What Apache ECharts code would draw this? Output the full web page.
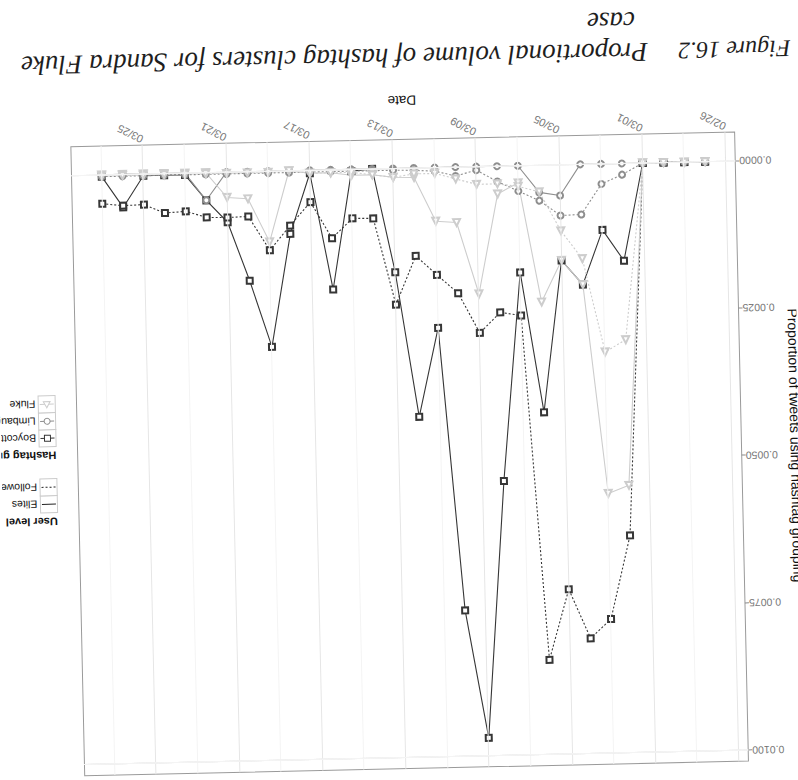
<!DOCTYPE html>
<html>
<head>
<meta charset="utf-8">
<script src="https://cdn.jsdelivr.net/npm/echarts@6/dist/echarts.min.js"></script>
<style>
  html, body { margin: 0; padding: 0; background: #fff; overflow: hidden; }
  /* the printed page sits upside down and slightly askew */
  #page { width: 798px; height: 780px; transform: rotate(178.74deg); transform-origin: 399px 390px; }
</style>
</head>
<body>
<div id="page"></div>
<script>
// ---- data -------------------------------------------------------------
const dates = [
  '2012-02-27','2012-02-28','2012-02-29','2012-03-01','2012-03-02','2012-03-03',
  '2012-03-04','2012-03-05','2012-03-06','2012-03-07','2012-03-08','2012-03-09',
  '2012-03-10','2012-03-11','2012-03-12','2012-03-13','2012-03-14','2012-03-15',
  '2012-03-16','2012-03-17','2012-03-18','2012-03-19','2012-03-20','2012-03-21',
  '2012-03-22','2012-03-23','2012-03-24','2012-03-25','2012-03-26','2012-03-27'
];
const boycottElites = [0,0,0,0,0.00165,0.00112,0.00204,0.00162,0.00419,0.00181,0.00534,0.00969,0.00752,0.00272,0.00422,0.00176,0,0.00003,0.00203,0.00005,0.00107,0.00298,0.00185,0.00085,0.00047,0.00003,0.00003,0.00003,0.00056,0.00003];
const boycottFollowers = [0,0,0,0,0.00631,0.00772,0.00804,0.00720,0.00839,0.00254,0.00248,0.00282,0.00214,0.00182,0.00149,0.00231,0.00084,0.00083,0.00116,0.00054,0.00093,0.00134,0.00076,0.00077,0.00076,0.00065,0.00067,0.00052,0.00053,0.00049];
const limbaughElites = [0,0,0,0,0,0,0,0.00052,0.00046,0,0,0,0,0,0,0,0,0,0,0,0,0,0,0,0.00047,0,0,0,0,0];
const limbaughFollowers = [0,0,0,0,0.00019,0.00034,0.00085,0.00086,0.00060,0.00043,0.00026,0.00006,0.00015,0.00006,0.00004,0.00003,0.00003,0.00003,0.00003,0.00003,0.00003,0.00003,0.00003,0.00003,0.00003,0.00003,0.00003,0.00003,0.00003,0.00003];
const flukeElites = [0,0,0,0,0.00546,0.00559,0.00204,0.00162,0.00232,0.00029,0.00047,0.00216,0.00094,0.00091,0.00016,0.00015,0.00010,0.00010,0.00005,0.00005,0,0.00120,0.00046,0.00043,0,0,0,0,0,0];
const flukeFollowers = [0,0,0,0,0.00299,0.00319,0.00160,0.00112,0.00045,0.00035,0.00030,0.00030,0.00020,0.00010,0.00010,0.00015,0.00010,0.00005,0.00005,0.00005,0,0.00002,0.00002,0.00002,0.00002,0.00002,0.00002,0.00002,0.00002,0.00002];

const tickDates  = ['2012-02-26','2012-03-01','2012-03-05','2012-03-09','2012-03-13','2012-03-17','2012-03-21','2012-03-25'];
const tickLabels = ['02/26','03/01','03/05','03/09','03/13','03/17','03/21','03/25'];
const minorDates = ['2012-02-28','2012-03-03','2012-03-07','2012-03-11','2012-03-15','2012-03-19','2012-03-23','2012-03-27'];
const yTicks      = [0, 0.0025, 0.005, 0.0075, 0.01];
const yTickLabels = ['0.0000','0.0025','0.0050','0.0075','0.0100'];
const yMinor      = [0.00125, 0.00375, 0.00625, 0.00875];

const hashtagGroups = ['Boycott','Limbaugh','Fluke'];
const userLevels    = ['Elites','Followers'];

// ---- helpers ------------------------------------------------------------
const DAY = 86400000;
const toTime = s => { const p = s.split('-').map(Number); return Date.UTC(p[0], p[1] - 1, p[2]); };
const times = dates.map(toTime);
const tickTimes = tickDates.map(toTime);
const minorTimes = minorDates.map(toTime);

const groupColor  = ['#363636', '#8e8e8e', '#cdcdcd'];
const groupSymbol = ['emptyRect', 'emptyCircle', 'emptyTriangle'];
const levelDash   = ['solid', [2, 2]];

const seriesValues = [
  [boycottElites, boycottFollowers],
  [limbaughElites, limbaughFollowers],
  [flukeElites, flukeFollowers]
];

const lineSeries = [];
hashtagGroups.forEach((g, gi) => {
  userLevels.forEach((lv, li) => {
    lineSeries.push({
      name: g + ' · ' + lv,
      type: 'line',
      z: 3,
      data: times.map((t, i) => [t, seriesValues[gi][li][i]]),
      symbol: groupSymbol[gi],
      symbolSize: gi === 2 ? 7 : 6,
      showSymbol: true,
      lineStyle: { color: groupColor[gi], width: 1.1, type: levelDash[li] },
      itemStyle: { color: groupColor[gi], borderColor: groupColor[gi], borderWidth: 1 },
      emphasis: { disabled: true }
    });
  });
});

// panel grid lines, placed through the axes' own scales
const gridLines = [];
tickTimes.forEach(t => gridLines.push({ xAxis: t, lineStyle: { color: '#e6e6e6', width: 1, type: 'solid' } }));
minorTimes.forEach(t => gridLines.push({ xAxis: t, lineStyle: { color: '#f4f4f4', width: 1, type: 'solid' } }));
yTicks.forEach(v => gridLines.push({ yAxis: v, lineStyle: { color: '#e6e6e6', width: 1, type: 'solid' } }));
yMinor.forEach(v => gridLines.push({ yAxis: v, lineStyle: { color: '#f4f4f4', width: 1, type: 'solid' } }));

const gridSeries = {
  name: 'grid',
  type: 'line',
  z: 1,
  data: [],
  silent: true,
  markLine: { silent: true, symbol: 'none', label: { show: false }, animation: false, data: gridLines }
};

// ---- legend keys (two stacked guides) -------------------------------------
const LX = 743, KEY = 17;
const legendEls = [];
function keyBox(y) {
  legendEls.push({ type: 'rect', shape: { x: LX, y: y, width: KEY, height: KEY },
    style: { fill: '#fff', stroke: '#cccccc', lineWidth: 1 } });
}
function keyText(str, y, bold) {
  legendEls.push({ type: 'text', x: bold ? LX : LX + KEY + 3, y: y,
    style: { text: str, fill: '#111', fontSize: bold ? 11 : 10.5, fontWeight: bold ? 'bold' : 'normal',
      fontFamily: 'Liberation Sans, Arial, sans-serif', verticalAlign: 'middle', align: 'left' } });
}
keyText('User level', 266, true);
userLevels.forEach((lv, i) => {
  const y = 275 + i * KEY;
  keyBox(y);
  legendEls.push({ type: 'line', shape: { x1: LX + 1.5, y1: y + KEY / 2, x2: LX + KEY - 1.5, y2: y + KEY / 2 },
    style: { stroke: '#222', lineWidth: 1, lineDash: i === 1 ? [2, 2] : null } });
  keyText(lv, y + KEY / 2, false);
});
keyText('Hashtag group', 332, true);
hashtagGroups.forEach((g, i) => {
  const y = 341 + i * KEY, cx = LX + KEY / 2, cy = y + KEY / 2;
  keyBox(y);
  legendEls.push({ type: 'line', shape: { x1: LX + 1.5, y1: cy, x2: LX + KEY - 1.5, y2: cy },
    style: { stroke: groupColor[i], lineWidth: 1 } });
  const st = { fill: '#fff', stroke: groupColor[i], lineWidth: 1 };
  if (i === 0) legendEls.push({ type: 'rect', shape: { x: cx - 3, y: cy - 3, width: 6, height: 6 }, style: st });
  if (i === 1) legendEls.push({ type: 'circle', shape: { cx: cx, cy: cy, r: 3 }, style: st });
  if (i === 2) legendEls.push({ type: 'polygon', shape: { points: [[cx, cy - 3.6], [cx + 3.4, cy + 2.6], [cx - 3.4, cy + 2.6]] }, style: st });
  keyText(g, cy, false);
});

// ---- caption ----------------------------------------------------------------
const capFont = 'italic 27px "Liberation Serif", "Times New Roman", serif';
const captionEls = [
  { type: 'text', x: 0, y: 711, style: { text: 'Figure 16.2', font: 'italic 24px "Liberation Serif", "Times New Roman", serif', fill: '#1e1e1e' } },
  { type: 'text', x: 143, y: 709, style: { text: 'Proportional volume of hashtag clusters for Sandra Fluke', font: capFont, fill: '#1e1e1e' } },
  { type: 'text', x: 155, y: 740, style: { text: 'case', font: capFont, fill: '#1e1e1e' } }
];

// ---- chart ------------------------------------------------------------------
const chart = echarts.init(document.getElementById('page'), null, { renderer: 'svg', width: 798, height: 780 });
chart.setOption({
  animation: false,
  backgroundColor: '#fff',
  grid: {
    left: 57.8, top: 11.3, width: 663.9, height: 629.2,
    show: true, backgroundColor: '#fff', borderColor: '#9a9a9a', borderWidth: 1,
    containLabel: false, outerBoundsMode: 'none'
  },
  xAxis: {
    type: 'value',
    min: toTime(dates[0]) - 1.45 * DAY,
    max: toTime(dates[dates.length - 1]) + 1.45 * DAY,
    axisLine: { show: false },
    splitLine: { show: false },
    axisTick: { show: true, customValues: tickTimes, length: 4, lineStyle: { color: '#8a8a8a' } },
    axisLabel: {
      customValues: tickTimes, rotate: -28, margin: 5, color: '#777', fontSize: 11,
      fontFamily: 'Liberation Sans, Arial, sans-serif',
      formatter: v => { const i = tickTimes.indexOf(v); return i >= 0 ? tickLabels[i] : ''; }
    },
    name: 'Date', nameLocation: 'middle', nameGap: 32,
    nameTextStyle: { color: '#111', fontSize: 13.5, fontFamily: 'Liberation Sans, Arial, sans-serif' }
  },
  yAxis: {
    type: 'value',
    min: -0.00049, max: 0.01018,
    axisLine: { show: false },
    splitLine: { show: false },
    axisTick: { show: true, customValues: yTicks, length: 4, lineStyle: { color: '#8a8a8a' } },
    axisLabel: {
      customValues: yTicks, margin: 4, color: '#777', fontSize: 10.5,
      fontFamily: 'Liberation Sans, Arial, sans-serif',
      formatter: v => { const i = yTicks.findIndex(t => Math.abs(t - v) < 1e-9); return i >= 0 ? yTickLabels[i] : ''; }
    },
    name: 'Proportion of tweets using hashtag grouping', nameLocation: 'middle', nameRotate: 90, nameGap: 28,
    nameTextStyle: { color: '#111', fontSize: 14, fontFamily: 'Liberation Sans, Arial, sans-serif' }
  },
  series: [gridSeries].concat(lineSeries),
  graphic: legendEls.concat(captionEls)
});
</script>
</body>
</html>
